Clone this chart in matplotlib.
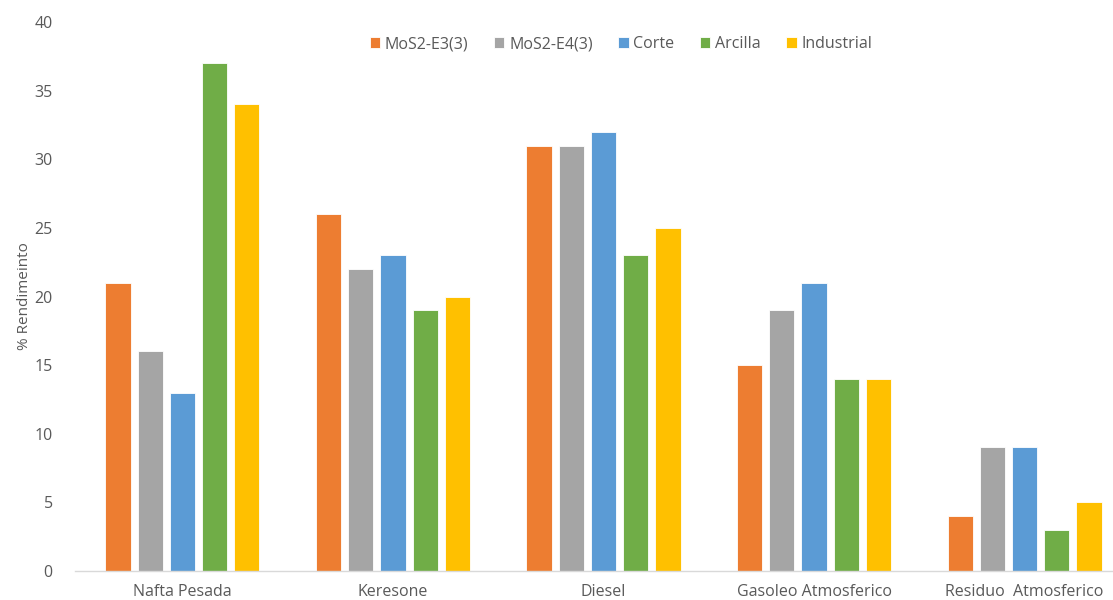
import numpy as np
import matplotlib
matplotlib.use('Agg')
import matplotlib.pyplot as plt

plt.rcParams['font.family'] = ['Open Sans', 'DejaVu Sans']

categories = ['Nafta Pesada', 'Keresone', 'Diesel', 'Gasoleo Atmosferico', 'Residuo  Atmosferico']
series_names = ['MoS2-E3(3)', 'MoS2-E4(3)', 'Corte', 'Arcilla', 'Industrial']
mos2_e3 = [21, 26, 31, 15, 4]
mos2_e4 = [16, 22, 31, 19, 9]
corte = [13, 23, 32, 21, 9]
arcilla = [37, 19, 23, 14, 3]
industrial = [34, 20, 25, 14, 5]

colors = ['#ED7D31', '#A5A5A5', '#5B9BD5', '#70AD47', '#FFC000']
values = [mos2_e3, mos2_e4, corte, arcilla, industrial]

fig = plt.figure(figsize=(11.13, 6), dpi=100)
ax = fig.add_axes([0.0674, 0.0483, 0.9326, 0.915])

x = np.arange(len(categories))
step = 0.153
width = 0.12
for i, (name, vals, c) in enumerate(zip(series_names, values, colors)):
    ax.bar(x + (i - 2) * step, vals, width, color=c, label=name,
           edgecolor='#ffffff', linewidth=0.6)

ax.set_xlim(-0.51, 4.42)
ax.set_ylim(0, 40)
ax.set_yticks(range(0, 41, 5))
ax.set_xticks(x)
ax.set_xticklabels(categories)
ax.tick_params(axis='both', length=0, labelsize=11.5, colors='#595959')
ax.tick_params(axis='x', pad=9)
ax.tick_params(axis='y', pad=16)
ax.set_ylabel('% Rendimeinto', fontsize=11, color='#595959', labelpad=2)

for s in ['top', 'right', 'left']:
    ax.spines[s].set_visible(False)
ax.spines['bottom'].set_color('#D9D9D9')
ax.spines['bottom'].set_linewidth(1)

ax.legend(loc='upper center', bbox_to_anchor=(0.526, 1.0), ncol=5, frameon=False,
          fontsize=11.5, labelcolor='#595959', handlelength=0.65, handleheight=0.65,
          handletextpad=0.3, columnspacing=1.6)

fig.savefig('out.png', dpi=100)
